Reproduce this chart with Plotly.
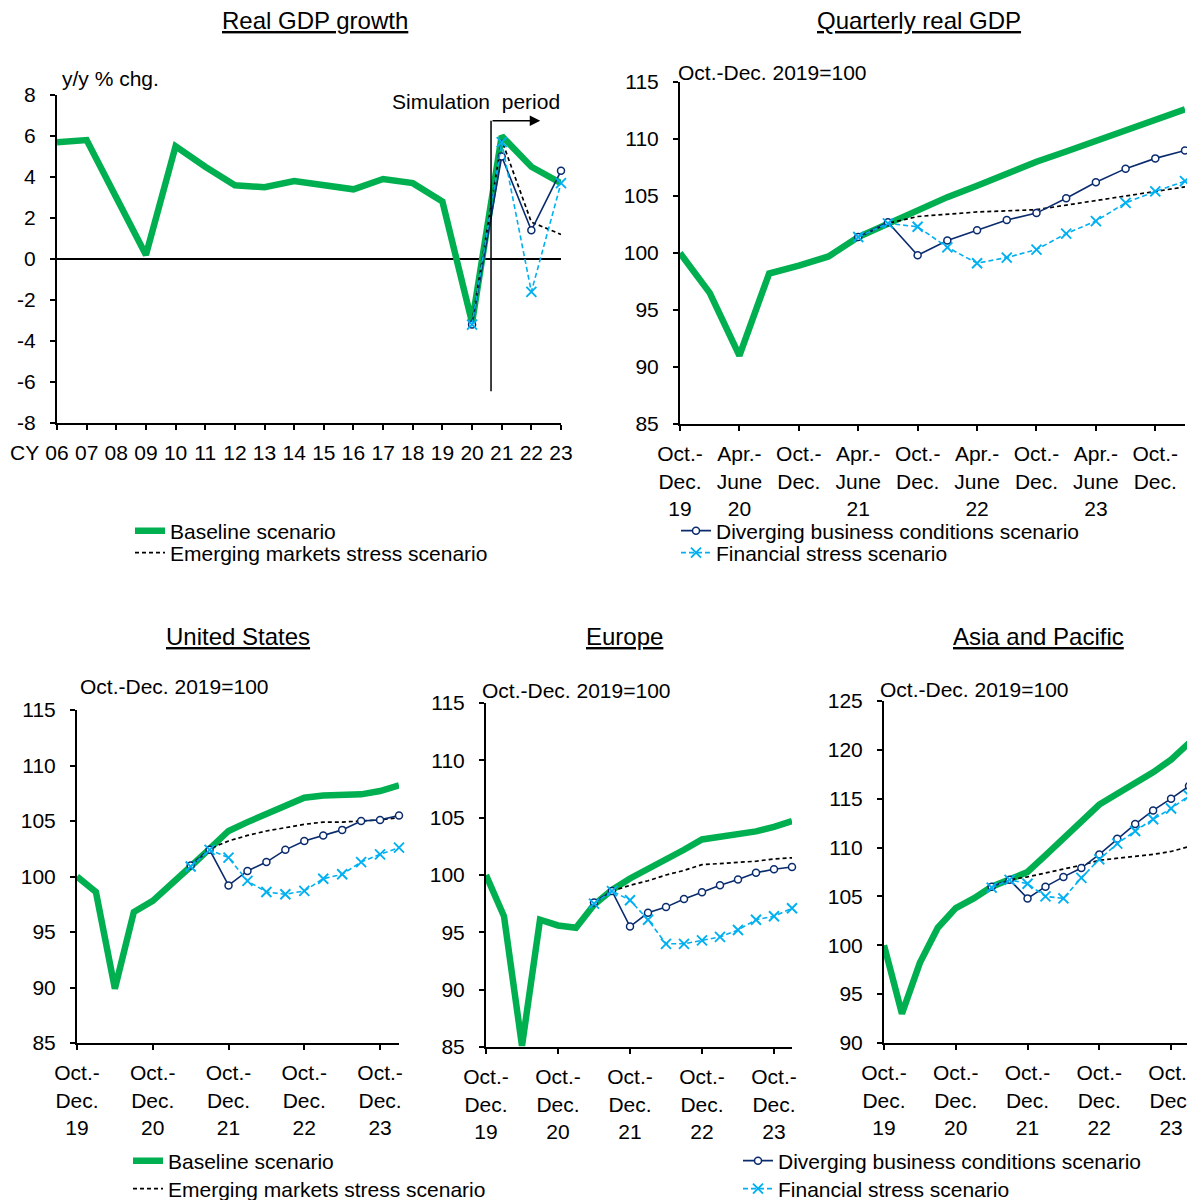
import plotly.graph_objects as go

# the page puts the figure 8px in from the top-left corner
OFF = 8
W, H = 1195 - OFF, 1200 - OFF
FONT = "Liberation Sans, Arial, sans-serif"

GREEN = "#00B050"
NAVY = "#0A2B6E"
SKY = "#00B0F0"

# ---------------- data ----------------
years = ["06", "07", "08", "09", "10", "11", "12", "13", "14", "15", "16",
         "17", "18", "19", "20", "21", "22", "23"]
sim_years = ["20", "21", "22", "23"]

growth_baseline = [5.7, 5.8, 3.0, 0.2, 5.5, 4.5, 3.6, 3.5, 3.8, 3.6, 3.4,
                   3.9, 3.7, 2.8, -3.1, 6.0, 4.5, 3.7]
growth_emerging = [-3.1, 5.8, 1.8, 1.2]
growth_diverging = [-3.2, 5.0, 1.4, 4.3]
growth_financial = [-3.2, 5.7, -1.6, 3.7]

quarters = ["2019Q4", "2020Q1", "2020Q2", "2020Q3", "2020Q4", "2021Q1",
            "2021Q2", "2021Q3", "2021Q4", "2022Q1", "2022Q2", "2022Q3",
            "2022Q4", "2023Q1", "2023Q2", "2023Q3", "2023Q4", "2024Q1"]
sim_quarters = quarters[6:]

world_ticks = ["Oct.-<br>Dec.<br>19", "Apr.-<br>June<br>20", "Oct.-<br>Dec.",
               "Apr.-<br>June<br>21", "Oct.-<br>Dec.", "Apr.-<br>June<br>22",
               "Oct.-<br>Dec.", "Apr.-<br>June<br>23", "Oct.-<br>Dec."]
region_ticks = ["Oct.-<br>Dec.<br>19", "Oct.-<br>Dec.<br>20", "Oct.-<br>Dec.<br>21",
                "Oct.-<br>Dec.<br>22", "Oct.-<br>Dec.<br>23"]

world_baseline = [100, 96.5, 91.0, 98.2, 98.9, 99.7, 101.4, 102.6, 103.8, 104.9,
                  105.9, 107.0, 108.0, 108.9, 109.8, 110.7, 111.7, 112.6]
world_emerging = [101.4, 102.6, 103.2, 103.4, 103.6, 103.7, 103.8, 104.2, 104.6,
                  105.0, 105.4, 105.8]
world_diverging = [101.4, 102.7, 99.8, 101.1, 102.0, 102.9, 103.5, 104.8, 106.2,
                   107.4, 108.3, 109.0]
world_financial = [101.4, 102.6, 102.3, 100.5, 99.1, 99.6, 100.3, 101.7, 102.8,
                   104.4, 105.4, 106.3]

us_baseline = [100, 98.6, 89.9, 96.8, 97.8, 99.3, 100.9, 102.5, 104.1, 104.9,
               105.6, 106.4, 107.1, 107.3, 107.4, 107.4, 107.7, 108.2]
us_emerging = [101.0, 102.5, 103.2, 103.7, 104.1, 104.4, 104.7, 104.9, 104.9,
               105.0, 105.1, 105.3]
us_diverging = [101.0, 102.4, 99.2, 100.5, 101.3, 102.4, 103.2, 103.7, 104.2,
                105.0, 105.1, 105.5]
us_financial = [100.9, 102.4, 101.7, 99.6, 98.6, 98.4, 98.7, 99.8, 100.2,
                101.3, 102.0, 102.6]

eu_baseline = [100, 96.4, 85.1, 96.1, 95.6, 95.4, 97.4, 98.7, 99.7, 100.5,
               101.4, 102.2, 103.1, 103.3, 103.6, 103.8, 104.2, 104.7]
eu_emerging = [97.6, 98.6, 99.1, 99.5, 100.0, 100.4, 100.9, 101.0, 101.1,
               101.2, 101.4, 101.5]
eu_diverging = [97.6, 98.6, 95.5, 96.7, 97.2, 97.9, 98.5, 99.1, 99.6,
                100.2, 100.5, 100.7]
eu_financial = [97.5, 98.6, 97.8, 96.1, 94.0, 94.0, 94.3, 94.6, 95.2,
                96.1, 96.4, 97.1]

asia_baseline = [100, 93.0, 98.2, 101.8, 103.8, 104.8, 106.0, 106.8, 107.5, 109.2,
                 110.9, 112.5, 114.4, 115.5, 116.6, 117.7, 119.0, 120.7]
asia_emerging = [106.0, 106.7, 107.0, 107.4, 107.8, 108.2, 108.7, 108.9, 109.1,
                 109.3, 109.6, 110.1]
asia_diverging = [106.0, 106.7, 104.8, 106.0, 107.0, 107.9, 109.3, 110.9, 112.4,
                  113.8, 115.0, 116.3]
asia_financial = [105.9, 106.7, 106.3, 105.0, 104.8, 106.9, 108.8, 110.4, 111.7,
                  112.9, 114.0, 115.3]

names = ["Baseline scenario", "Emerging markets stress scenario",
         "Diverging business conditions scenario", "Financial stress scenario"]


# screen pixel -> paper fraction
def px(x):
    return (x - OFF) / W


def py(y):
    return 1 - (y - OFF) / H


STYLES = [
    dict(mode="lines", line=dict(color=GREEN, width=6.5)),
    dict(mode="lines", line=dict(color="black", width=1.7, dash="4px,3px")),
    dict(mode="lines+markers", line=dict(color=NAVY, width=1.6),
         marker=dict(symbol="circle", size=7, color="white",
                     line=dict(color=NAVY, width=1.5))),
    dict(mode="lines+markers", line=dict(color=SKY, width=1.6, dash="5px,3px"),
         marker=dict(symbol="x-thin", size=10, line=dict(color=SKY, width=1.9))),
]

fig = go.Figure()


def add_panel(n, x_full, x_sim, series, legends=None):
    xs = [x_full, x_sim, x_sim, x_sim]
    for i, ys in enumerate(series):
        kw = dict(STYLES[i])
        tr = go.Scatter(x=xs[i], y=ys, name=names[i], cliponaxis=False,
                        xaxis="x" + ("" if n == 1 else str(n)),
                        yaxis="y" + ("" if n == 1 else str(n)),
                        showlegend=legends is not None, **kw)
        if legends is not None:
            tr.legend = legends[i]
        fig.add_trace(tr)


add_panel(1, years, sim_years,
          [growth_baseline, growth_emerging, growth_diverging, growth_financial],
          ["legend", "legend2", "legend3", "legend4"])
add_panel(2, quarters, sim_quarters,
          [world_baseline, world_emerging, world_diverging, world_financial])
add_panel(3, quarters, sim_quarters,
          [us_baseline, us_emerging, us_diverging, us_financial],
          ["legend5", "legend6", "legend7", "legend8"])
add_panel(4, quarters, sim_quarters,
          [eu_baseline, eu_emerging, eu_diverging, eu_financial])
add_panel(5, quarters, sim_quarters,
          [asia_baseline, asia_emerging, asia_diverging, asia_financial])

axis_common = dict(showgrid=False, showline=True, linecolor="black", linewidth=2,
                   ticks="outside", ticklen=5, tickwidth=1.5, tickcolor="black",
                   automargin=False,
                   tickfont=dict(size=21, color="black", family=FONT))


def xaxis(x0, x1, anchor, tickvals, ticktext):
    return dict(axis_common, domain=[px(x0), px(x1)], anchor=anchor, type="category",
                range=[0, 17], tickvals=tickvals, ticktext=ticktext, zeroline=False,
                ticklabelstandoff=5)


def yaxis(ytop, ybot, anchor, rng, dtick):
    return dict(axis_common, domain=[py(ybot), py(ytop)], anchor=anchor, range=rng,
                dtick=dtick, zeroline=False, ticklabelstandoff=10)


y1 = yaxis(95, 423, "x", [-8, 8], 2)
y1.update(tickvals=list(range(-8, 9, 2)),
          ticktext=[str(v) for v in range(-8, 9, 2)],
          zeroline=True, zerolinecolor="black", zerolinewidth=1.5)

fig.update_layout(
    xaxis=xaxis(57, 561, "y", years, years),
    yaxis=y1,
    xaxis2=xaxis(680, 1185, "y2", quarters[0::2], world_ticks),
    yaxis2=yaxis(82, 424, "x2", [85, 115], 5),
    xaxis3=xaxis(77, 399, "y3", quarters[0::4], region_ticks),
    yaxis3=yaxis(710, 1043, "x3", [85, 115], 5),
    xaxis4=xaxis(486, 792, "y4", quarters[0::4], region_ticks),
    yaxis4=yaxis(703, 1047, "x4", [85, 115], 5),
    xaxis5=xaxis(884, 1189, "y5", quarters[0::4], region_ticks),
    yaxis5=yaxis(701, 1043, "x5", [90, 125], 5),
)

# legends, one item each so they can be placed like the original
legend_pos = {
    "legend": (130, 531), "legend2": (130, 553),
    "legend3": (676, 531), "legend4": (676, 553),
    "legend5": (128, 1161), "legend6": (128, 1189),
    "legend7": (738, 1161), "legend8": (738, 1189),
}
for key, (lx, ly) in legend_pos.items():
    fig.layout[key] = dict(x=px(lx), y=py(ly), xanchor="left", yanchor="middle",
                           bgcolor="rgba(0,0,0,0)", borderwidth=0, itemwidth=30,
                           font=dict(size=21, color="black", family=FONT))

annotations = []


def text(x, y, s, size=21, anchor="left"):
    annotations.append(dict(x=px(x), y=py(y), xref="paper", yref="paper", text=s,
                            showarrow=False, xanchor=anchor, yanchor="middle",
                            font=dict(size=size, color="black", family=FONT)))


text(315, 20, "<u>Real GDP growth</u>", 24, "center")
text(919, 20, "<u>Quarterly real GDP</u>", 24, "center")
text(238, 636, "<u>United States</u>", 24, "center")
text(625, 636, "<u>Europe</u>", 24, "center")
text(1038, 636, "<u>Asia and Pacific</u>", 24, "center")
text(60, 78, "y/y % chg.")
text(8, 453, "CY")
text(676, 72, "Oct.-Dec. 2019=100")
text(78, 686, "Oct.-Dec. 2019=100")
text(480, 690, "Oct.-Dec. 2019=100")
text(878, 689, "Oct.-Dec. 2019=100")
text(476, 102, "Simulation  period", 21, "center")

# simulation period arrow
annotations.append(dict(x=16.3, y=6.75, ax=14.64, ay=6.75, xref="x", yref="y",
                        axref="x", ayref="y", text="", showarrow=True,
                        arrowhead=2, arrowsize=1.4, arrowwidth=1.5,
                        arrowcolor="black"))
fig.update_layout(annotations=annotations)
fig.add_shape(type="line", xref="x", yref="y", x0=14.64, x1=14.64, y0=-6.45,
              y1=6.75, line=dict(color="black", width=1.5))

fig.update_layout(width=W, height=H,
                  margin=dict(l=0, r=0, t=0, b=0, pad=0, autoexpand=False),
                  template="none",
                  plot_bgcolor="white", paper_bgcolor="white",
                  font=dict(family=FONT, size=21, color="black"))

fig.write_html("out.html")
